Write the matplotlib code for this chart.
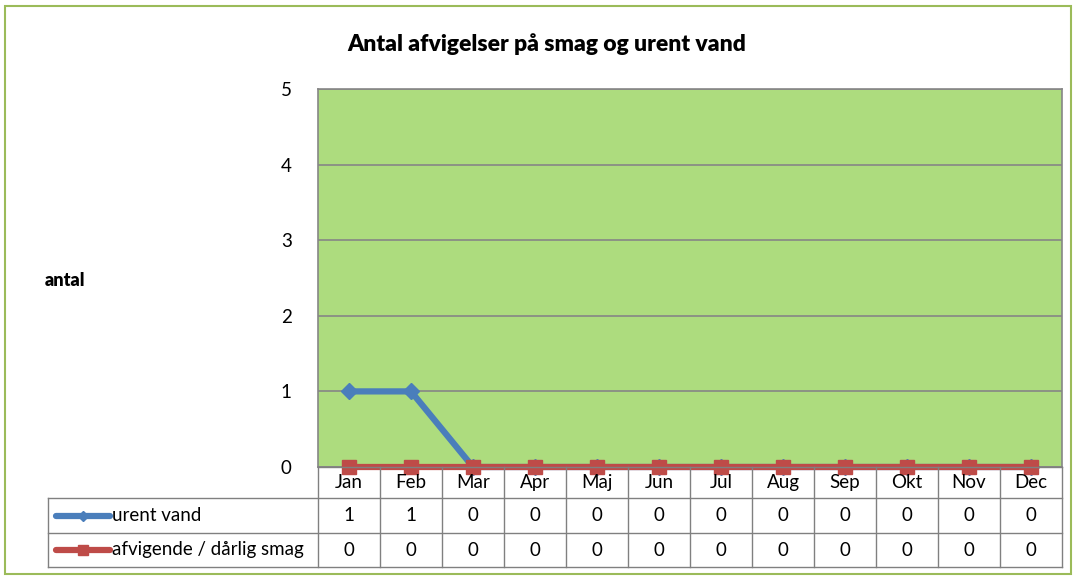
import numpy as np
import matplotlib.pyplot as plt
from matplotlib.lines import Line2D
from matplotlib.patches import Rectangle

plt.rcParams['font.family'] = ['Lato', 'DejaVu Sans']

months = ['Jan', 'Feb', 'Mar', 'Apr', 'Maj', 'Jun', 'Jul', 'Aug', 'Sep', 'Okt', 'Nov', 'Dec']
urent_vand = [1, 1, 0, 0, 0, 0, 0, 0, 0, 0, 0, 0]
daarlig_smag = [0, 0, 0, 0, 0, 0, 0, 0, 0, 0, 0, 0]
series_names = ['urent vand', 'afvigende / dårlig smag']
title = 'Antal afvigelser på smag og urent vand'

W, H = 1077, 579
fig = plt.figure(figsize=(W / 100, H / 100), dpi=100)

# outer chart border
fig.patches.append(Rectangle((5 / W, 5 / H), 1066 / W, 568 / H, transform=fig.transFigure,
                             fill=False, edgecolor='#9BBB59', lw=1.5))

x0, x1, ytop, ybot = 318, 1062, 89, 467
ax = fig.add_axes([x0 / W, 1 - ybot / H, (x1 - x0) / W, (ybot - ytop) / H])
ax.set_facecolor('#ADDC7E')
ax.set_xlim(0, 12)
ax.set_ylim(0, 5)
for s in ax.spines.values():
    s.set_color('#868686')
    s.set_linewidth(1.2)
ax.yaxis.grid(True, color='#868686', lw=1.2)
ax.set_axisbelow(True)
ax.set_yticks(range(6))
ax.tick_params(axis='y', length=0, pad=19, labelsize=13.5)
ax.set_xticks([])

xs = np.arange(12) + 0.5
ax.plot(xs, urent_vand, color='#4A7EBB', lw=4.5, marker='D', ms=8, clip_on=False, zorder=3)
ax.plot(xs, daarlig_smag, color='#BE4B48', lw=4.5, marker='s', ms=10, clip_on=False, zorder=4)

fig.text(547 / W, 1 - 44 / H, title, ha='center', va='center', fontsize=16.5, fontweight='heavy')
fig.text(65 / W, 1 - 280 / H, 'antal', ha='center', va='center', fontsize=13, fontweight='heavy')

# data table below the plot
tab_left = 48
rows = [467, 498, 533, 567]
lc = '#808080'
tr = fig.transFigure
def fx(p):
    return p / W
def fy(p):
    return 1 - p / H

fs = 13.5
fig.add_artist(Line2D([fx(x0), fx(x1)], [fy(rows[0])] * 2, color=lc, lw=1, transform=tr))
for r in rows[1:]:
    fig.add_artist(Line2D([fx(tab_left), fx(x1)], [fy(r)] * 2, color=lc, lw=1, transform=tr))
colw = (x1 - x0) / 12
for i in range(13):
    xv = x0 + i * colw
    fig.add_artist(Line2D([fx(xv)] * 2, [fy(rows[0]), fy(rows[3])], color=lc, lw=1, transform=tr))
fig.add_artist(Line2D([fx(tab_left)] * 2, [fy(rows[1]), fy(rows[3])], color=lc, lw=1, transform=tr))

for i, m in enumerate(months):
    cx = fx(x0 + (i + 0.5) * colw)
    fig.text(cx, fy((rows[0] + rows[1]) / 2), m, ha='center', va='center', fontsize=fs)
    fig.text(cx, fy((rows[1] + rows[2]) / 2), str(urent_vand[i]), ha='center', va='center', fontsize=fs)
    fig.text(cx, fy((rows[2] + rows[3]) / 2), str(daarlig_smag[i]), ha='center', va='center', fontsize=fs)

keys = [('#4A7EBB', 'D', 5), ('#BE4B48', 's', 7)]
for k, (col, mk, ms) in enumerate(keys):
    yc = fy((rows[k + 1] + rows[k + 2]) / 2)
    fig.add_artist(Line2D([fx(56), fx(110)], [yc, yc], color=col, lw=4.5, solid_capstyle='round',
                          transform=tr))
    fig.add_artist(Line2D([fx(83)], [yc], color=col, marker=mk, ms=ms, transform=tr))
    fig.text(fx(112), yc, series_names[k], ha='left', va='center', fontsize=fs)

fig.savefig('out.png', dpi=100)
